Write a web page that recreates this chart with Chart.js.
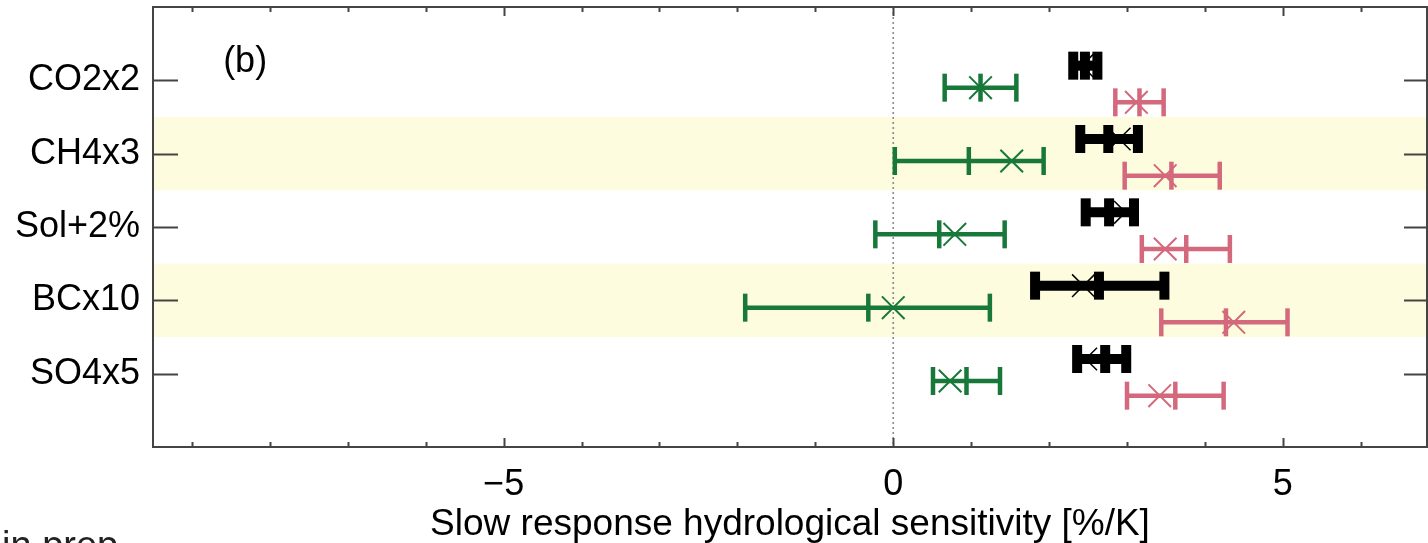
<!DOCTYPE html>
<html>
<head>
<meta charset="utf-8">
<script src="https://cdn.jsdelivr.net/npm/chart.js@4.4.1/dist/chart.umd.min.js"></script>
<style>
  html, body { margin: 0; padding: 0; background: #fff; }
  #wrap { width: 1428px; height: 543px; position: relative; }
</style>
</head>
<body>
<div id="wrap"><canvas id="sensChart"></canvas></div>
<script>
// Rows (top to bottom) and x tick labels
const categories = ['CO2x2', 'CH4x3', 'Sol+2%', 'BCx10', 'SO4x5'];
const xTickLabels = [-5, 0, 5];
const shadedRows = ['CH4x3', 'BCx10'];

// Black series: range, median tick, mean cross
const blackLow = [2.31, 2.40, 2.47, 1.82, 2.36];
const blackHigh = [2.62, 3.14, 3.09, 3.48, 2.99];
const blackMedian = [2.46, 2.76, 2.77, 2.64, 2.72];
const blackMean = [2.42, 2.90, 2.98, 2.44, 2.47];

// Green series
const greenLow = [0.66, 0.02, -0.23, -1.90, 0.51];
const greenHigh = [1.58, 1.93, 1.43, 1.24, 1.37];
const greenMedian = [1.12, 0.97, 0.59, -0.32, 0.94];
const greenMean = [1.12, 1.52, 0.79, 0.00, 0.73];

// Pink series
const pinkLow = [2.85, 2.97, 3.19, 3.44, 3.00];
const pinkHigh = [3.47, 4.19, 4.32, 5.06, 4.24];
const pinkMedian = [3.16, 3.57, 3.76, 4.27, 3.62];
const pinkMean = [3.12, 3.49, 3.49, 4.37, 3.42];

const FONT = '"Liberation Sans", Arial, Helvetica, sans-serif';
const AXIS_COLOR = '#444';
Chart.defaults.font.family = FONT;
Chart.defaults.color = '#000';

const series = [
    { low: blackLow, high: blackHigh, median: blackMedian, mean: blackMean,
      color: '#000000', shift: -0.2, lineW: 10, capW: 10, crossW: 1.5 },
    { low: greenLow, high: greenHigh, median: greenMedian, mean: greenMean,
      color: '#17783a', shift: 0.1, lineW: 4.5, capW: 4.5, crossW: 2 },
    { low: pinkLow, high: pinkHigh, median: pinkMedian, mean: pinkMean,
      color: '#d4687c', shift: 0.3, lineW: 4.5, capW: 4.5, crossW: 2 }
];

const datasets = [];

// dotted zero reference line
datasets.push({
    data: [{ x: 0, y: 0 }, { x: 0, y: categories.length + 1 }],
    showLine: true,
    borderColor: '#8c8c8c',
    borderWidth: 1.6,
    borderDash: [2, 3],
    pointRadius: 0,
    order: 10
});

series.forEach(s => {
    // range bars with end caps
    categories.forEach((c, i) => {
        const y = i + 1 + s.shift;
        datasets.push({
            data: [{ x: s.low[i], y: y }, { x: s.high[i], y: y }],
            showLine: true,
            borderColor: s.color,
            borderWidth: s.lineW,
            borderCapStyle: 'butt',
            pointStyle: 'line',
            pointRotation: 90,
            pointRadius: 14,
            pointBorderWidth: s.capW,
            pointBorderColor: s.color,
            pointBackgroundColor: s.color,
            order: 5
        });
    });
    // median ticks
    datasets.push({
        data: categories.map((c, i) => ({ x: s.median[i], y: i + 1 + s.shift })),
        showLine: false,
        pointStyle: 'line',
        pointRotation: 90,
        pointRadius: 14,
        pointBorderWidth: s.capW,
        pointBorderColor: s.color,
        pointBackgroundColor: s.color,
        order: 4
    });
    // mean crosses
    datasets.push({
        data: categories.map((c, i) => ({ x: s.mean[i], y: i + 1 + s.shift })),
        showLine: false,
        pointStyle: 'crossRot',
        pointRadius: 16,
        pointBorderWidth: s.crossW,
        pointBorderColor: s.color,
        pointBackgroundColor: s.color,
        order: 3
    });
});

// Shaded rows behind the bars
const bandPlugin = {
    id: 'bands',
    beforeDatasetsDraw(chart) {
        const { ctx, chartArea, scales } = chart;
        ctx.save();
        ctx.fillStyle = 'rgb(254, 252, 222)';
        shadedRows.forEach(name => {
            const pos = categories.indexOf(name) + 1;
            const y1 = scales.y.getPixelForValue(pos - 0.5);
            const y2 = scales.y.getPixelForValue(pos + 0.5);
            ctx.fillRect(chartArea.left, y1, chartArea.right - chartArea.left, y2 - y1);
        });
        ctx.restore();
    }
};

// Box frame, inward ticks and extra text
const framePlugin = {
    id: 'frame',
    afterDraw(chart) {
        const { ctx, chartArea, scales } = chart;
        const { left, right, top, bottom } = chartArea;
        ctx.save();
        ctx.strokeStyle = AXIS_COLOR;
        ctx.lineWidth = 2;
        ctx.strokeRect(left, top, right - left, bottom - top);

        ctx.beginPath();
        for (let v = Math.ceil(scales.x.min); v <= Math.floor(scales.x.max); v++) {
            const px = Math.round(scales.x.getPixelForValue(v)) + 0.5;
            const len = v % 5 === 0 ? 9 : 5;
            ctx.moveTo(px, bottom);
            ctx.lineTo(px, bottom - len);
            ctx.moveTo(px, top);
            ctx.lineTo(px, top + len);
        }
        categories.forEach((c, i) => {
            const py = Math.round(scales.y.getPixelForValue(i + 1)) + 0.5;
            ctx.moveTo(left, py);
            ctx.lineTo(left + 25, py);
            ctx.moveTo(right, py);
            ctx.lineTo(right - 23, py);
        });
        ctx.stroke();

        ctx.fillStyle = '#000';
        ctx.font = '36px ' + FONT;
        ctx.textAlign = 'left';
        ctx.textBaseline = 'middle';
        ctx.fillText('(b)', scales.x.getPixelForValue(-8.6), scales.y.getPixelForValue(0.75));

        ctx.fillStyle = '#222';
        ctx.font = '38px ' + FONT;
        ctx.textBaseline = 'alphabetic';
        ctx.fillText('in prep.', 2, 558);
        ctx.restore();
    }
};

new Chart(document.getElementById('sensChart'), {
    type: 'scatter',
    data: { datasets: datasets },
    options: {
        responsive: true,
        maintainAspectRatio: false,
        animation: false,
        events: [],
        layout: { autoPadding: false, padding: { top: 7, right: 1, left: 0, bottom: 0 } },
        plugins: {
            legend: { display: false },
            tooltip: { enabled: false }
        },
        scales: {
            x: {
                type: 'linear',
                min: -9.5,
                max: 6.85,
                grid: { display: false },
                border: { display: false },
                afterBuildTicks: scale => {
                    scale.ticks = xTickLabels.map(v => ({ value: v }));
                },
                afterFit: scale => {
                    scale.height = 96;
                    scale.paddingLeft = 0;
                    scale.paddingRight = 0;
                },
                ticks: {
                    autoSkip: false,
                    maxRotation: 0,
                    padding: 12,
                    font: { size: 36, lineHeight: 1 },
                    callback: v => (v < 0 ? '\u2212' + Math.abs(v) : String(v))
                },
                title: {
                    display: true,
                    text: 'Slow response hydrological sensitivity [%/K]',
                    font: { size: 37, lineHeight: 1 },
                    padding: { top: 0, bottom: 0 }
                }
            },
            y: {
                type: 'linear',
                min: 0,
                max: categories.length + 1,
                reverse: true,
                grid: { display: false },
                border: { display: false },
                afterBuildTicks: scale => {
                    scale.ticks = categories.map((c, i) => ({ value: i + 1 }));
                },
                afterFit: scale => {
                    scale.width = 153;
                    scale.paddingTop = 0;
                    scale.paddingBottom = 0;
                },
                ticks: {
                    autoSkip: false,
                    padding: 5,
                    font: { size: 36, lineHeight: 1 },
                    callback: v => categories[v - 1]
                }
            }
        }
    },
    plugins: [bandPlugin, framePlugin]
});
</script>
</body>
</html>
